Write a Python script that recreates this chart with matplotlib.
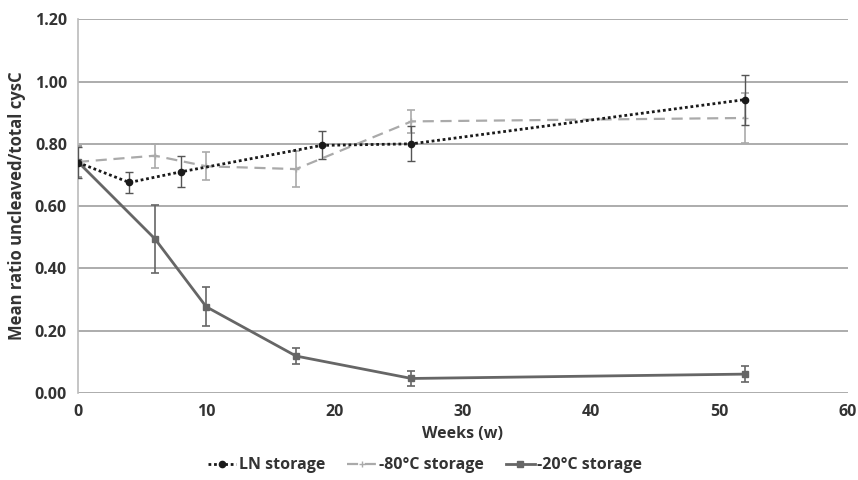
import matplotlib
matplotlib.use("Agg")
import matplotlib.pyplot as plt

plt.rcParams['font.family'] = ['Open Sans', 'DejaVu Sans']

# LN storage
ln_weeks = [0, 4, 8, 19, 26, 52]
ln_vals = [0.74, 0.676, 0.71, 0.795, 0.80, 0.942]
ln_err = [0.05, 0.034, 0.05, 0.045, 0.056, 0.08]

# -80 C storage
m80_weeks = [0, 6, 10, 17, 26, 52]
m80_vals = [0.742, 0.762, 0.728, 0.719, 0.872, 0.883]
m80_err = [0.05, 0.039, 0.045, 0.058, 0.037, 0.08]

# -20 C storage
m20_weeks = [0, 6, 10, 17, 26, 52]
m20_vals = [0.742, 0.495, 0.277, 0.119, 0.047, 0.061]
m20_err = [0.05, 0.11, 0.063, 0.025, 0.025, 0.025]

xticks = [0, 10, 20, 30, 40, 50, 60]
yticks = [0.0, 0.2, 0.4, 0.6, 0.8, 1.0, 1.2]

fig = plt.figure(figsize=(8.58, 4.8), dpi=100)
ax = fig.add_axes([0.0909, 0.181, 0.897, 0.779])

txt = '#333333'

c20 = ax.errorbar(m20_weeks, m20_vals, yerr=m20_err, color='#666666', lw=2.0,
                  marker='s', ms=4, capsize=3, elinewidth=1.2, capthick=1.2,
                  label='-20°C storage', zorder=3)
c80 = ax.errorbar(m80_weeks, m80_vals, yerr=m80_err, color='#aaaaaa', lw=1.6,
                  linestyle=(0, (5, 3)), marker='+', ms=5, capsize=3,
                  elinewidth=1.2, capthick=1.2, label='-80°C storage', zorder=4)
cln = ax.errorbar(ln_weeks, ln_vals, yerr=ln_err, color='#1a1a1a', lw=2.0,
                  linestyle=(0, (1, 1)), marker='o', ms=4.5, capsize=3,
                  elinewidth=1.0, capthick=1.0, ecolor='#555555',
                  label='LN storage', zorder=5)

ax.set_xlim(0, 60)
ax.set_ylim(0, 1.2)
ax.set_xticks(xticks)
ax.set_yticks(yticks)
ax.set_yticklabels([f'{v:.2f}' for v in yticks])
ax.yaxis.grid(True, color='#a6a6a6', lw=1.3)
ax.set_axisbelow(True)
for s in ['top', 'right', 'bottom']:
    ax.spines[s].set_visible(False)
ax.spines['left'].set_color('#bbbbbb')
ax.spines['left'].set_linewidth(1.2)
ax.tick_params(length=0, labelsize=11.5, labelcolor=txt, pad=8)
for lab in ax.get_xticklabels() + ax.get_yticklabels():
    lab.set_fontweight('bold')

ax.set_xlabel('Weeks (w)', fontsize=11.5, color=txt, fontweight='bold', labelpad=4)
ax.set_ylabel('Mean ratio uncleaved/total cysC', fontsize=12, color=txt,
              fontweight='bold', labelpad=6)

leg = fig.legend([cln[0], c80[0], c20[0]],
                 ['LN storage', '-80°C storage', '-20°C storage'],
                 loc='center', bbox_to_anchor=(0.495, 0.031), ncol=3,
                 frameon=False, fontsize=11.5, handlelength=1.8,
                 columnspacing=1.4, handletextpad=0.15)
for t in leg.get_texts():
    t.set_color(txt)
    t.set_fontweight('bold')

fig.savefig('out.png', dpi=100)
